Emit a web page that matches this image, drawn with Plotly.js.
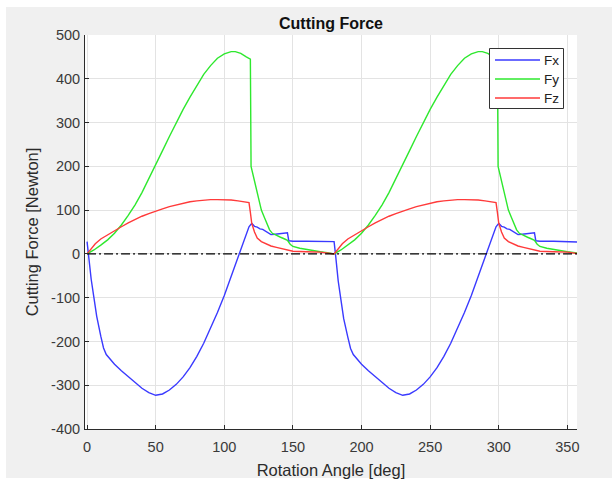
<!DOCTYPE html>
<html>
<head>
<meta charset="utf-8">
<script src="https://cdn.plot.ly/plotly-3.0.1.min.js"></script>
<style>html,body{margin:0;padding:0;background:#fff;}#chart{width:612px;height:479px;}</style>
</head>
<body>
<div id="chart"></div>
<script>
// ---- Data ----
const fxAngle = [0,1,2,3,5,7,10,12,14,17,20,25,30,35,40,45,50,55,60,65,70,75,80,85,90,95,100,105,110,115,118,120,122,124,126,128,130,132,134,137,141,145,146,147,150,160,170,179,
                 180,181,182,183,185,187,190,192,194,197,200,205,210,215,220,225,230,235,240,245,250,255,260,265,270,275,280,285,290,295,298,300,302,304,306,308,310,312,314,317,321,325,326,327,330,340,350,357];
const fxValue = [28,0,-33,-58,-100,-142,-188,-215,-230,-242,-252,-267,-281,-295,-307,-317,-323,-320,-311,-298,-281,-260,-234,-204,-170,-134,-95,-52,-6,38,62,70,63,61,57,56,52,46,44,45,46,47,48,30,29,29,28,27,
                 28,0,-36,-62,-105,-148,-190,-216,-230,-242,-252,-267,-281,-295,-307,-317,-323,-320,-311,-298,-281,-260,-234,-204,-170,-134,-95,-52,-6,38,62,70,63,61,57,56,52,46,44,45,46,47,48,30,29,29,28,27];

const fyAngle = [0,5,10,15,20,25,30,35,40,45,50,55,60,65,70,75,80,85,90,95,100,105,108,112,116,119,119.5,121,123,125,127,129,131,133,135,138,141,144,146,148,150,155,160,165,170,175,180,
                 185,190,195,200,205,210,215,220,225,230,235,240,245,250,255,260,265,270,275,280,285,288,292,296,299,299.5,301,303,305,307,309,311,313,315,318,321,324,326,328,330,335,340,345,350,357];
const fyValue = [0,9,20,32,47,66,88,112,140,171,203,236,268,300,330,358,385,410,430,447,457,462,462,458,450,445,200,180,150,124,100,85,70,55,47,42,38,34,31,22,17,13,10,7,5,3,0,
                 9,20,32,47,66,88,112,140,171,203,236,268,300,330,358,385,410,430,447,457,462,462,458,450,445,200,180,150,124,100,85,70,55,47,42,38,34,31,22,17,13,10,7,5,2,0];

const fzAngle = [0,3,6,10,15,20,25,30,35,40,45,50,55,60,65,70,75,80,85,90,95,100,105,110,115,118,119,120,122,124,127,130,134,138,142,145,147,150,160,170,180,
                 183,186,190,195,200,205,210,215,220,225,230,235,240,245,250,255,260,265,270,275,280,285,290,295,298,299,300,302,304,307,310,314,318,322,325,327,330,340,350,357];
const fzValue = [0,12,23,34,44,52,62,71,79,86,92,98,103,108,112,116,119,121,123,124,124,124,123,121,119,117,95,70,50,36,28,23,18,15,12,11,8,6,5,4,0,
                 12,23,34,44,52,62,71,79,86,92,98,103,108,112,116,119,121,123,124,124,124,123,121,119,117,95,70,50,36,28,23,18,15,12,11,8,6,5,4,1];

const zeroAngle = [0, 360];
const zeroValue = [0, 0];

const seriesNames = ['Fx', 'Fy', 'Fz'];
const seriesColors = ['#3a3aff', '#2ee82e', '#ff3a3a'];
const xTicks = [0,50,100,150,200,250,300,350];
const yTicks = [-400,-300,-200,-100,0,100,200,300,400,500];

// ---- Plot ----
const lineW = 1.4;
const traces = [
  {x: fxAngle, y: fxValue, name: seriesNames[0], mode: 'lines', line: {color: seriesColors[0], width: lineW}},
  {x: fyAngle, y: fyValue, name: seriesNames[1], mode: 'lines', line: {color: seriesColors[1], width: lineW}},
  {x: fzAngle, y: fzValue, name: seriesNames[2], mode: 'lines', line: {color: seriesColors[2], width: lineW}},
  {x: zeroAngle, y: zeroValue, mode: 'lines', showlegend: false, hoverinfo: 'skip',
   line: {color: '#000000', width: 1.2, dash: '9px,3px,2px,3px'}}
];

const fontFam = '"Liberation Sans", Arial, Helvetica, sans-serif';
const W = 612, H = 479, ML = 85, MR = 35, MT = 35, MB = 50;
const PW = W - ML - MR, PH = H - MT - MB;
const px2x = px => (px - ML) / PW;
const py2y = py => (H - MB - py) / PH;

const axisCommon = {
  showline: true, linecolor: '#2b2b2b', linewidth: 1, mirror: false,
  ticks: 'inside', ticklen: 4, tickcolor: '#2b2b2b', tickwidth: 1,
  showgrid: true, gridcolor: '#e3e3e3', gridwidth: 1,
  zeroline: false,
  tickfont: {family: fontFam, size: 14.5, color: '#3a3a3a'}
};

// manual legend (box + line samples + labels), positioned in paper space
const legShapes = [
  {type: 'rect', xref: 'paper', yref: 'paper', x0: px2x(489.5), x1: px2x(563.5), y0: py2y(108.5), y1: py2y(48.5),
   fillcolor: '#ffffff', line: {color: '#333333', width: 1}, layer: 'above'}
];
const legAnn = [];
const rowsY = [60, 79, 98];
seriesNames.forEach((n, i) => {
  legShapes.push({type: 'line', xref: 'paper', yref: 'paper', x0: px2x(495), x1: px2x(540), y0: py2y(rowsY[i]), y1: py2y(rowsY[i]),
    line: {color: seriesColors[i], width: lineW}, layer: 'above'});
  legAnn.push({text: n, xref: 'paper', yref: 'paper', x: px2x(542), y: py2y(rowsY[i]), xanchor: 'left', yanchor: 'middle',
    showarrow: false, font: {family: fontFam, size: 13.5, color: '#222222'}});
});

const layout = {
  width: W, height: H,
  paper_bgcolor: '#ffffff',
  plot_bgcolor: '#ffffff',
  margin: {l: ML, r: MR, t: MT, b: MB, pad: 0},
  font: {family: fontFam},
  showlegend: false,
  title: {text: '<b>Cutting Force</b>', font: {family: fontFam, size: 16, color: '#111111'},
          x: 0.5, xref: 'paper', xanchor: 'center', y: 1, yref: 'paper', yanchor: 'bottom', pad: {b: 6}},
  xaxis: Object.assign({}, axisCommon, {
    range: [-1.5, 357], tickvals: xTicks, ticktext: xTicks.map(String), ticklabelstandoff: 5,
    title: {text: 'Rotation Angle [deg]', font: {family: fontFam, size: 16.5, color: '#2b2b2b'}, standoff: 10}
  }),
  yaxis: Object.assign({}, axisCommon, {
    range: [-400, 500], tickvals: yTicks, ticktext: yTicks.map(String), ticklabelstandoff: 1,
    title: {text: 'Cutting Force [Newton]', font: {family: fontFam, size: 16.5, color: '#2b2b2b'}, standoff: 8}
  }),
  shapes: [
    {type: 'rect', xref: 'paper', yref: 'paper', x0: px2x(6), x1: px2x(612), y0: py2y(478), y1: py2y(7),
     fillcolor: '#f0f0f0', line: {width: 0}, layer: 'below'},
    {type: 'rect', xref: 'paper', yref: 'paper', x0: 0, x1: 1, y0: 0, y1: 1,
     fillcolor: '#ffffff', line: {width: 0}, layer: 'below'}
  ].concat(legShapes),
  annotations: legAnn
};

Plotly.newPlot('chart', traces, layout, {displayModeBar: false, staticPlot: true});
</script>
</body>
</html>
